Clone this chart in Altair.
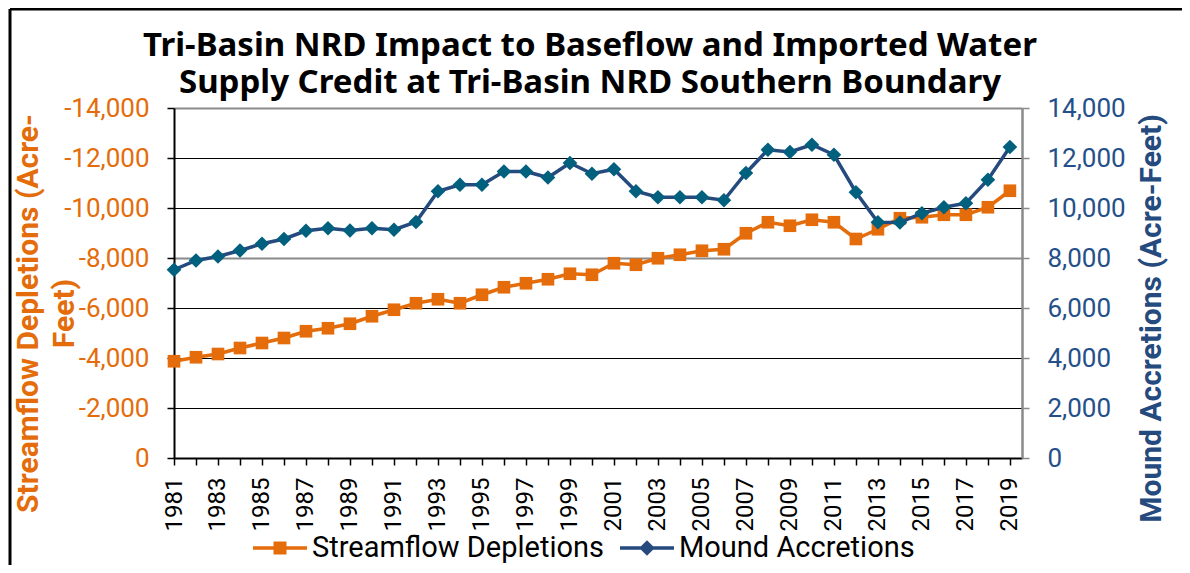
import altair as alt
import pandas as pd

years = list(range(1981, 2020))
streamflow_depletions = [-3870, -4030, -4160, -4400, -4600, -4800, -5070, -5190, -5370, -5670,
                         -5930, -6190, -6350, -6190, -6530, -6830, -6990, -7150, -7370, -7330,
                         -7790, -7730, -7990, -8130, -8290, -8350, -8990, -9430, -9290, -9530,
                         -9430, -8760, -9150, -9590, -9630, -9730, -9730, -10030, -10690]
mound_accretions = [7530, 7900, 8060, 8300, 8570, 8760, 9090, 9190, 9100, 9190,
                    9130, 9440, 10670, 10930, 10930, 11460, 11460, 11220, 11800, 11370,
                    11550, 10670, 10430, 10430, 10430, 10310, 11400, 12330, 12240, 12530,
                    12130, 10630, 9430, 9420, 9790, 10030, 10190, 11130, 12440]
series_names = ["Streamflow Depletions", "Mound Accretions"]
left_ticks = [0, -2000, -4000, -6000, -8000, -10000, -12000, -14000]
right_ticks = [0, 2000, 4000, 6000, 8000, 10000, 12000, 14000]

ORANGE = "#E46C0A"
NAVY = "#254A7E"
TEAL = "#02607F"
AXIS_BLUE = "#24508A"
GRAY = "#8A8A8A"

df_s = pd.DataFrame({"year": years, "value": streamflow_depletions, "series": series_names[0]})
df_m = pd.DataFrame({"year": years, "value": mound_accretions, "series": series_names[1]})

x_enc = alt.X(
    "year:Q",
    scale=alt.Scale(domain=[1981, 2019.55], nice=False, zero=False),
    axis=alt.Axis(
        values=years, format="d",
        labelExpr="datum.value % 2 == 1 ? datum.label : ''",
        labelAngle=270, labelFont="Roboto", labelFontSize=24, labelColor="black",
        labelPadding=12, tickSize=7, tickColor="black", tickWidth=1.5,
        domainColor="black", domainWidth=2, grid=False, title=None,
    ),
)

y_left = alt.Y(
    "value:Q",
    scale=alt.Scale(domain=[-14000, 0], reverse=True, nice=False, zero=False),
    axis=alt.Axis(
        orient="left", values=left_ticks, format=",d",
        labelExpr="replace(datum.label, '\u2212', '-')",
        labelFont="Roboto", labelFontSize=26, labelColor=ORANGE, labelPadding=18,
        tickSize=7, tickColor="black", tickWidth=1.5,
        domainColor="black", domainWidth=2,
        grid=True,
        gridColor={"condition": {"test": "datum.value == -8000 || datum.value == -14000", "value": GRAY}, "value": "#000000"},
        gridWidth={"condition": {"test": "datum.value == -8000 || datum.value == -14000", "value": 2}, "value": 1},
        title=["Streamflow Depletions (Acre-", "Feet)"],
        titleFont="Roboto", titleFontWeight="bold", titleFontSize=30, titleColor=ORANGE,
        titleAngle=270, titleAlign="center", titleBaseline="middle", titleLineHeight=36,
        titleX=-146, titleY=205,
    ),
)

y_right = alt.Y(
    "value:Q",
    scale=alt.Scale(domain=[0, 14000], nice=False, zero=False),
    axis=alt.Axis(
        orient="right", values=right_ticks, format=",d",
        labelFont="Roboto", labelFontSize=26, labelColor=AXIS_BLUE, labelPadding=18,
        tickSize=7, tickColor=GRAY, tickWidth=1.5,
        domainColor=GRAY, domainWidth=2.5, grid=False,
        title="Mound Accretions (Acre-Feet)",
        titleFont="Roboto", titleFontWeight="bold", titleFontSize=30, titleColor=NAVY,
        titleAngle=270, titleAlign="center", titleBaseline="middle",
        titleX=129, titleY=210,
    ),
)

sq_path = "M-1,-0.065H1V0.065H-1Z M-0.24,-0.24H0.24V0.24H-0.24Z"
dia_path = "M-1,-0.065H1V0.065H-1Z M0,-0.29L0.29,0L0,0.29L-0.29,0Z"

orange_line = alt.Chart(df_s).mark_line(color=ORANGE, strokeWidth=3.5).encode(x=x_enc, y=y_left)
orange_pts = alt.Chart(df_s).mark_point(filled=True, shape="square", size=160, color=ORANGE, opacity=1).encode(x=x_enc, y=y_left)
legend_layer = alt.Chart(df_s).transform_filter("false").mark_point(filled=True, opacity=1).encode(
    x=x_enc, y=y_left,
    color=alt.Color("series:N", scale=alt.Scale(domain=series_names, range=[ORANGE, NAVY]),
                    legend=alt.Legend(orient="none", legendX=79, legendY=413, direction="horizontal",
                                      title=None, symbolSize=2916, symbolStrokeWidth=0,
                                      labelFont="Roboto", labelFontSize=29, labelColor="black",
                                      labelLimit=500, labelOffset=5, columnPadding=15, padding=0)),
    shape=alt.Shape("series:N", scale=alt.Scale(domain=series_names, range=[sq_path, dia_path])),
)
left = alt.layer(orange_line, orange_pts, legend_layer)

blue_line = alt.Chart(df_m).mark_line(color=NAVY, strokeWidth=3.5).encode(x=x_enc, y=y_right)
blue_pts = alt.Chart(df_m).mark_point(filled=True, shape="diamond", size=216, color=TEAL, opacity=1).encode(x=x_enc, y=y_right)
right = alt.layer(blue_line, blue_pts)

frame_data = alt.Data(values=[{"k": 1}])
frame_left = alt.Chart(frame_data).mark_rule(color="black", strokeWidth=3).encode(
    x=alt.value(-164), y=alt.value(-99), y2=alt.value(465))
frame_top = alt.Chart(frame_data).mark_rule(color="black", strokeWidth=3).encode(
    x=alt.value(-164), x2=alt.value(1010), y=alt.value(-99))

chart = alt.layer(left, right, frame_left, frame_top).resolve_scale(y="independent").properties(
    width=848, height=350,
    padding={"left": 166, "top": 100, "right": 160, "bottom": 107},
    autosize=alt.AutoSizeParams(type="none"),
    title=alt.Title(
        ["Tri-Basin NRD Impact to Baseflow and Imported Water",
         "Supply Credit at Tri-Basin NRD Southern Boundary"],
        font="Noto Sans", fontSize=33, fontWeight="bold", color="black",
        anchor="middle", lineHeight=37, offset=12, dy=104, dx=-8,
    ),
).configure_view(fill="#F0F0F0", strokeWidth=0).configure(background="white")

chart.save("out.html", embed_options={"renderer": "svg", "actions": False})
